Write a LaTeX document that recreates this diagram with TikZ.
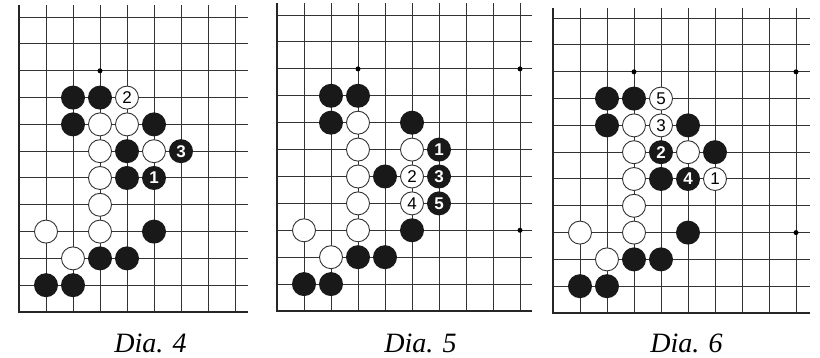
\documentclass[tikz,border=0pt]{standalone}
\usepackage{fontspec}
\setmainfont{Liberation Serif}
\newfontfamily\numfont{Liberation Sans}

\tikzset{
  gridline/.style={line width=1pt, draw=black!80},
  edgeline/.style={line width=2pt, draw=black!85},
  bstone/.style={circle, fill=black!90, minimum size=24pt, inner sep=0pt, text=white,
    font=\numfont\bfseries\fontsize{17}{17}\selectfont},
  wstone/.style={circle, draw=black!80, line width=0.9pt, fill=white, minimum size=23pt, inner sep=0pt,
    font=\numfont\fontsize{17}{17}\selectfont},
  hoshi/.style={circle, fill=black, minimum size=5pt, inner sep=0pt},
  diacap/.style={anchor=base, inner sep=1pt, font=\itshape\fontsize{28}{28}\selectfont}
}

\begin{document}
\begin{tikzpicture}[x=1pt, y=1pt]
  \useasboundingbox (0,0) rectangle (820,358);

  % Dia. 4
  \begin{scope}[shift={(19pt,46pt)}, x=27pt, y=26.8pt]
    \foreach \c in {1,...,8} \draw[gridline] (\c,0) -- (\c,11.45);
    \foreach \r in {1,...,11} \draw[gridline] (0,\r) -- (8.48,\r);
    \draw[edgeline] (0,11.45) -- (0,0) -- (8.48,0);
    \node[hoshi] (p4h1) at (3,9) {};
    \foreach \c/\r in {2/8,3/8,2/7,5/7,4/6,4/5,5/3,3/2,4/2,1/1,2/1}
      \node[bstone] (p4b\c\r) at (\c,\r) {};
    \foreach \c/\r in {3/7,4/7,3/6,5/6,3/5,3/4,1/3,3/3,2/2}
      \node[wstone] (p4w\c\r) at (\c,\r) {};
    \node[bstone] (p4m1) at (5,5) {1};
    \node[wstone] (p4m2) at (4,8) {2};
    \node[bstone] (p4m3) at (6,6) {3};
  \end{scope}

  % Dia. 5
  \begin{scope}[shift={(277pt,47pt)}, x=27pt, y=26.9pt]
    \foreach \c in {1,...,9} \draw[gridline] (\c,0) -- (\c,11.45);
    \foreach \r in {1,...,11} \draw[gridline] (0,\r) -- (9.44,\r);
    \draw[edgeline] (0,11.45) -- (0,0) -- (9.44,0);
    \foreach \c/\r in {3/9,9/9,9/3}
      \node[hoshi] (p5h\c\r) at (\c,\r) {};
    \foreach \c/\r in {2/8,3/8,2/7,5/7,4/5,5/3,3/2,4/2,1/1,2/1}
      \node[bstone] (p5b\c\r) at (\c,\r) {};
    \foreach \c/\r in {3/7,3/6,5/6,3/5,3/4,1/3,3/3,2/2}
      \node[wstone] (p5w\c\r) at (\c,\r) {};
    \node[bstone] (p5m1) at (6,6) {1};
    \node[wstone] (p5m2) at (5,5) {2};
    \node[bstone] (p5m3) at (6,5) {3};
    \node[wstone] (p5m4) at (5,4) {4};
    \node[bstone] (p5m5) at (6,4) {5};
  \end{scope}

  % Dia. 6
  \begin{scope}[shift={(553pt,45pt)}, x=27pt, y=26.8pt]
    \foreach \c in {1,...,9} \draw[gridline] (\c,0) -- (\c,11.38);
    \foreach \r in {1,...,11} \draw[gridline] (0,\r) -- (9.5,\r);
    \draw[edgeline] (0,11.38) -- (0,0) -- (9.5,0);
    \foreach \c/\r in {3/9,9/9,9/3}
      \node[hoshi] (p6h\c\r) at (\c,\r) {};
    \foreach \c/\r in {2/8,3/8,2/7,5/7,6/6,4/5,5/3,3/2,4/2,1/1,2/1}
      \node[bstone] (p6b\c\r) at (\c,\r) {};
    \foreach \c/\r in {3/7,3/6,5/6,3/5,3/4,1/3,3/3,2/2}
      \node[wstone] (p6w\c\r) at (\c,\r) {};
    \node[wstone] (p6m1) at (6,5) {1};
    \node[bstone] (p6m2) at (4,6) {2};
    \node[wstone] (p6m3) at (4,7) {3};
    \node[bstone] (p6m4) at (5,5) {4};
    \node[wstone] (p6m5) at (4,8) {5};
  \end{scope}

  % captions
  \node[diacap] (cap4) at (150.5,5) {Dia. 4};
  \node[diacap] (cap5) at (420.5,5) {Dia. 5};
  \node[diacap] (cap6) at (686.5,5) {Dia. 6};
\end{tikzpicture}
\end{document}
